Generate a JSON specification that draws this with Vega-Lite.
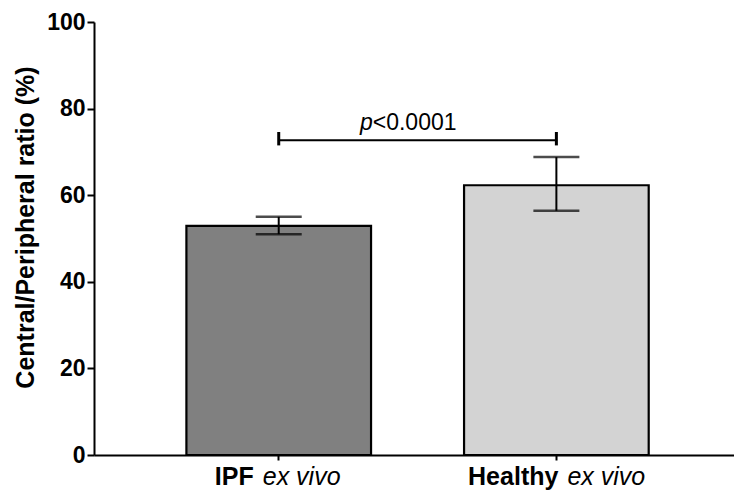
{
  "$schema": "https://vega.github.io/schema/vega-lite/v6.json",
  "width": 640,
  "height": 433,
  "autosize": {"type": "none"},
  "padding": {"left": 94, "top": 22, "right": 0, "bottom": 35},
  "background": "white",
  "config": {"view": {"stroke": null}, "font": "Liberation Sans"},
  "datasets": {
    "bars": [
      {"group": "IPF ex vivo", "value": 52.9, "lo": 51.0, "hi": 55.0},
      {"group": "Healthy ex vivo", "value": 62.3, "lo": 56.4, "hi": 68.8}
    ],
    "labels": [
      {"group": "IPF ex vivo", "bold": "IPF", "italic": "ex vivo", "y": -7},
      {"group": "Healthy ex vivo", "bold": "Healthy", "italic": "ex vivo", "y": -7}
    ],
    "sig": [
      {"from": "IPF ex vivo", "to": "Healthy ex vivo", "y": 72.7, "textY": 75.0, "p": "p", "rest": "<0.0001"}
    ],
    "sigEnds": [
      {"group": "IPF ex vivo", "lo": 71.5, "hi": 74.6},
      {"group": "Healthy ex vivo", "lo": 71.5, "hi": 74.6}
    ]
  },
  "layer": [
    {
      "data": {"name": "bars"},
      "mark": {"type": "bar", "stroke": "black", "strokeWidth": 2.2},
      "encoding": {
        "x": {
          "field": "group", "type": "nominal", "title": null,
          "scale": {"domain": ["IPF ex vivo", "Healthy ex vivo"], "paddingInner": 0.335, "paddingOuter": 0.32, "align": 0.52},
          "axis": {"title": null, "labels": false, "domainColor": "black", "domainWidth": 2, "tickColor": "black", "tickWidth": 2, "tickSize": 5}
        },
        "y": {
          "field": "value", "type": "quantitative", "title": "Central/Peripheral ratio (%)",
          "scale": {"domain": [0, 100], "nice": false, "zero": true},
          "axis": {
            "title": "Central/Peripheral ratio (%)", "values": [0, 20, 40, 60, 80, 100], "grid": false,
            "domainColor": "black", "domainWidth": 2, "tickColor": "black", "tickWidth": 2, "tickSize": 7,
            "labelFontSize": 23, "labelFontWeight": "bold", "labelColor": "black", "labelPadding": 2,
            "titleFontSize": 25, "titleFontWeight": "bold", "titleColor": "black", "titlePadding": 8, "titleY": 205
          }
        },
        "color": {"field": "group", "type": "nominal", "scale": {"domain": ["IPF ex vivo", "Healthy ex vivo"], "range": ["#808080", "#d3d3d3"]}, "legend": null}
      }
    },
    {
      "data": {"name": "bars"},
      "mark": {"type": "rule", "color": "black", "strokeWidth": 2},
      "encoding": {
        "x": {"field": "group", "type": "nominal", "title": null},
        "y": {"field": "lo", "type": "quantitative", "title": "Central/Peripheral ratio (%)"},
        "y2": {"field": "hi"}
      }
    },
    {
      "data": {"name": "bars"},
      "mark": {"type": "tick", "color": "black", "size": 46, "thickness": 2.5},
      "encoding": {
        "x": {"field": "group", "type": "nominal", "title": null},
        "y": {"field": "lo", "type": "quantitative", "title": "Central/Peripheral ratio (%)"}
      }
    },
    {
      "data": {"name": "bars"},
      "mark": {"type": "tick", "color": "black", "size": 46, "thickness": 2.5},
      "encoding": {
        "x": {"field": "group", "type": "nominal", "title": null},
        "y": {"field": "hi", "type": "quantitative", "title": "Central/Peripheral ratio (%)"}
      }
    },
    {
      "data": {"name": "sig"},
      "mark": {"type": "rule", "color": "black", "strokeWidth": 2},
      "encoding": {
        "x": {"field": "from", "type": "nominal", "title": null},
        "x2": {"field": "to"},
        "y": {"field": "y", "type": "quantitative", "title": "Central/Peripheral ratio (%)"}
      }
    },
    {
      "data": {"name": "sigEnds"},
      "mark": {"type": "rule", "color": "black", "strokeWidth": 3},
      "encoding": {
        "x": {"field": "group", "type": "nominal", "title": null},
        "y": {"field": "lo", "type": "quantitative", "title": "Central/Peripheral ratio (%)"},
        "y2": {"field": "hi"}
      }
    },
    {
      "data": {"name": "sig"},
      "mark": {"type": "text", "align": "right", "baseline": "alphabetic", "dx": 94, "fontSize": 23, "fontStyle": "italic", "color": "black"},
      "encoding": {
        "x": {"field": "from", "type": "nominal", "title": null},
        "y": {"field": "textY", "type": "quantitative", "title": "Central/Peripheral ratio (%)"},
        "text": {"field": "p"}
      }
    },
    {
      "data": {"name": "sig"},
      "mark": {"type": "text", "align": "left", "baseline": "alphabetic", "dx": 94, "fontSize": 23, "color": "black"},
      "encoding": {
        "x": {"field": "from", "type": "nominal", "title": null},
        "y": {"field": "textY", "type": "quantitative", "title": "Central/Peripheral ratio (%)"},
        "text": {"field": "rest"}
      }
    },
    {
      "data": {"name": "labels"},
      "transform": [{"filter": "datum.group == 'IPF ex vivo'"}],
      "mark": {"type": "text", "align": "right", "baseline": "alphabetic", "dx": -25, "fontSize": 25, "fontWeight": "bold", "color": "black"},
      "encoding": {
        "x": {"field": "group", "type": "nominal", "title": null},
        "y": {"field": "y", "type": "quantitative", "title": "Central/Peripheral ratio (%)"},
        "text": {"field": "bold"}
      }
    },
    {
      "data": {"name": "labels"},
      "transform": [{"filter": "datum.group == 'IPF ex vivo'"}],
      "mark": {"type": "text", "align": "left", "baseline": "alphabetic", "dx": -16, "fontSize": 25, "fontStyle": "italic", "color": "black"},
      "encoding": {
        "x": {"field": "group", "type": "nominal", "title": null},
        "y": {"field": "y", "type": "quantitative", "title": "Central/Peripheral ratio (%)"},
        "text": {"field": "italic"}
      }
    },
    {
      "data": {"name": "labels"},
      "transform": [{"filter": "datum.group == 'Healthy ex vivo'"}],
      "mark": {"type": "text", "align": "right", "baseline": "alphabetic", "dx": 2, "fontSize": 25, "fontWeight": "bold", "color": "black"},
      "encoding": {
        "x": {"field": "group", "type": "nominal", "title": null},
        "y": {"field": "y", "type": "quantitative", "title": "Central/Peripheral ratio (%)"},
        "text": {"field": "bold"}
      }
    },
    {
      "data": {"name": "labels"},
      "transform": [{"filter": "datum.group == 'Healthy ex vivo'"}],
      "mark": {"type": "text", "align": "left", "baseline": "alphabetic", "dx": 11, "fontSize": 25, "fontStyle": "italic", "color": "black"},
      "encoding": {
        "x": {"field": "group", "type": "nominal", "title": null},
        "y": {"field": "y", "type": "quantitative", "title": "Central/Peripheral ratio (%)"},
        "text": {"field": "italic"}
      }
    }
  ]
}
